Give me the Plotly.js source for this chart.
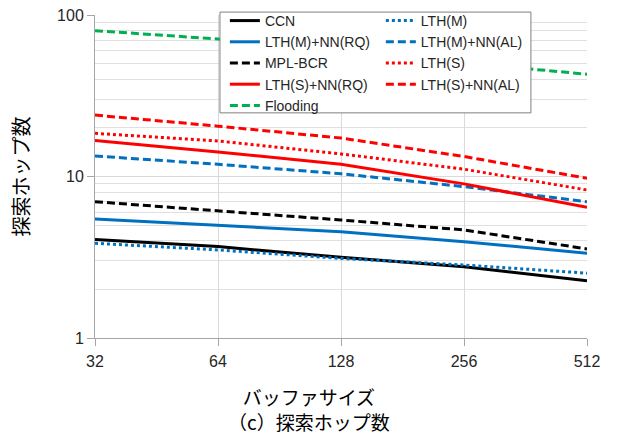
<!DOCTYPE html>
<html>
<head>
<meta charset="utf-8">
<script src="https://cdn.plot.ly/plotly-3.0.1.min.js"></script>
<style>html,body{margin:0;padding:0;background:#fff;}</style>
</head>
<body>
<div id="chart" style="width:617px;height:438px;"></div>
<script>
const bufferSizes = [32, 64, 128, 256, 512];
const xTickLabels = ['32', '64', '128', '256', '512'];
const yTickVals = [1, 10, 100];
const yTickLabels = ['1', '10', '100'];

const seriesNames = ['CCN', 'LTH(M)', 'LTH(M)+NN(RQ)', 'LTH(M)+NN(AL)', 'MPL-BCR', 'LTH(S)', 'LTH(S)+NN(RQ)', 'LTH(S)+NN(AL)', 'Flooding'];
const ccn        = [4.08, 3.68, 3.16, 2.76, 2.26];
const lthM       = [3.86, 3.51, 3.11, 2.83, 2.52];
const lthM_RQ    = [5.46, 5.01, 4.55, 3.95, 3.35];
const lthM_AL    = [13.4, 11.9, 10.4, 8.65, 6.98];
const mplBcr     = [6.98, 6.14, 5.38, 4.67, 3.56];
const lthS       = [18.5, 16.6, 13.8, 11.1, 8.25];
const lthS_RQ    = [16.7, 14.2, 11.9, 9.0, 6.45];
const lthS_AL    = [24.0, 20.5, 17.3, 13.3, 9.75];
const flooding   = [80, 71, 60, 50.5, 43];

const seriesValues = [ccn, lthM, lthM_RQ, lthM_AL, mplBcr, lthS, lthS_RQ, lthS_AL, flooding];
const colors = ['#000000', '#0070C0', '#0070C0', '#0070C0', '#000000', '#FF0000', '#FF0000', '#FF0000', '#00B050'];
const dashes = ['solid', 'dot', 'solid', '8px,4px', '8px,4px', 'dot', 'solid', '8px,4px', '8px,4px'];
// legend column of each series (Excel lays the legend out row by row, two per row)
const legendColumn = ['legend', 'legend2', 'legend', 'legend2', 'legend', 'legend2', 'legend', 'legend2', 'legend'];

const traces = seriesNames.map((name, i) => ({
  x: bufferSizes,
  y: seriesValues[i],
  name: name,
  type: 'scatter',
  mode: 'lines',
  legend: legendColumn[i],
  line: {color: colors[i], width: 3, dash: dashes[i]}
}));

const minorY = [];
[1, 10].forEach(d => { for (let k = 2; k <= 9; k++) minorY.push(k * d); });

const latin = 'Liberation Sans, Noto Sans CJK JP, sans-serif';
const cjk = 'Noto Sans CJK JP, sans-serif';

const legendCommon = {
  orientation: 'v', xanchor: 'left', yanchor: 'top',
  bgcolor: 'rgba(0,0,0,0)', borderwidth: 0,
  font: {family: latin, size: 14, color: '#262626'},
  traceorder: 'normal'
};

const layout = {
  width: 617, height: 438,
  margin: {l: 95, r: 30, t: 15, b: 100, autoexpand: false},
  paper_bgcolor: '#ffffff', plot_bgcolor: '#ffffff',
  font: {family: latin, color: '#262626', size: 14},
  showlegend: true,
  legend: Object.assign({}, legendCommon, {x: 0.264, y: 1.031}),
  legend2: Object.assign({}, legendCommon, {x: 0.581, y: 1.031}),
  shapes: [
    {type: 'rect', xref: 'paper', yref: 'paper', x0: 0.254, x1: 0.886, y0: 0.697, y1: 1.009,
     line: {color: '#7f7f7f', width: 1}, fillcolor: '#ffffff', layer: 'above'}
  ],
  xaxis: {
    type: 'log',
    range: [Math.log10(32), Math.log10(512)],
    tickvals: bufferSizes, ticktext: xTickLabels,
    tickfont: {family: latin, size: 16, color: '#262626'},
    ticks: 'outside', ticklen: 7, tickcolor: '#a6a6a6', ticklabelstandoff: 2,
    showgrid: true, gridcolor: '#d9d9d9', gridwidth: 1,
    showline: true, linecolor: '#a6a6a6', linewidth: 1,
    zeroline: false, automargin: false
  },
  yaxis: {
    type: 'log',
    range: [0, 2],
    tickvals: yTickVals, ticktext: yTickLabels,
    tickfont: {family: latin, size: 16, color: '#262626'},
    ticks: 'outside', ticklen: 7, tickcolor: '#a6a6a6',
    showgrid: true, gridcolor: '#d9d9d9', gridwidth: 1,
    minor: {tickvals: minorY, showgrid: true, gridcolor: '#e0e0e0', gridwidth: 1, ticks: ''},
    showline: true, linecolor: '#a6a6a6', linewidth: 1,
    zeroline: false, automargin: false,
    title: {text: '探索ホップ数', font: {family: cjk, size: 20, color: '#000000'}, standoff: 22}
  },
  annotations: [
    {text: 'バッファサイズ<br>（c）探索ホップ数', xref: 'paper', yref: 'paper', x: 0.434, y: -0.22, xanchor: 'center', yanchor: 'middle', align: 'center', showarrow: false, font: {family: cjk, size: 19, color: '#000000'}}
  ]
};

Plotly.newPlot('chart', traces, layout, {displayModeBar: false, staticPlot: true});
</script>
</body>
</html>
